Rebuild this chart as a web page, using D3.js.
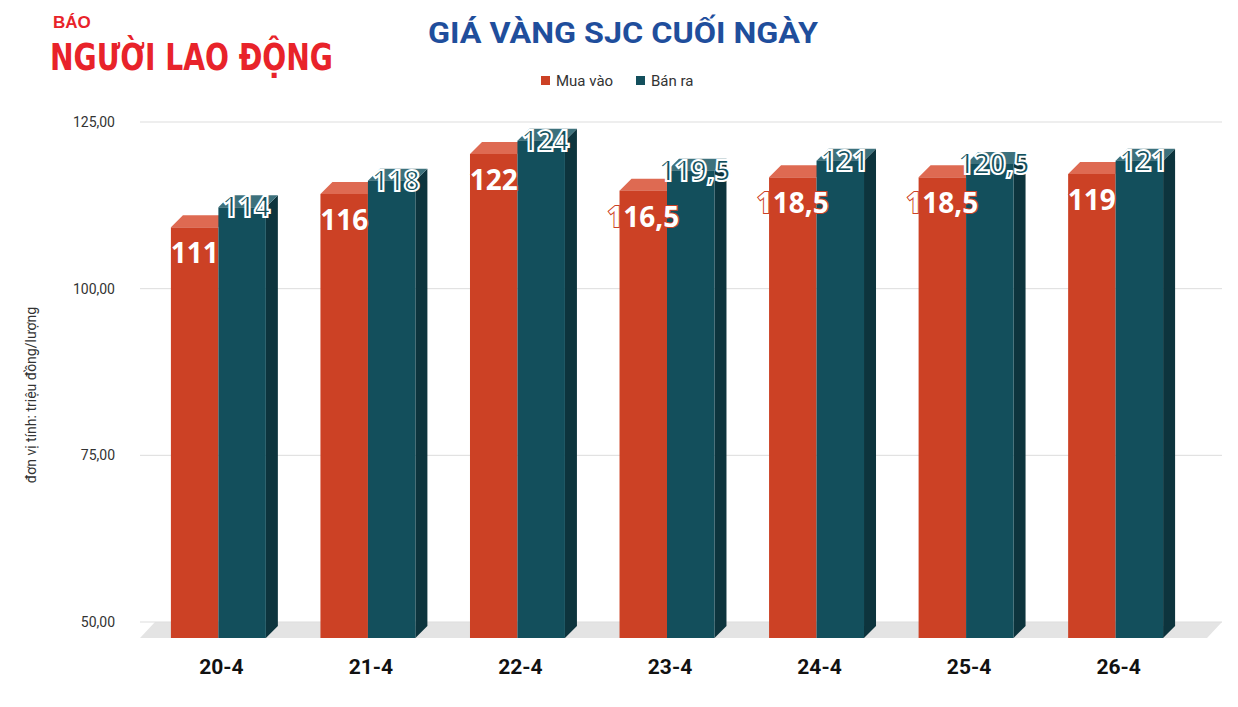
<!DOCTYPE html>
<html><head><meta charset="utf-8">
<script src="https://cdn.jsdelivr.net/npm/d3@7"></script>
<style>body{margin:0;background:#fff}</style></head>
<body><svg id="c" width="1238" height="707"></svg>
<script>
var days = ["20-4","21-4","22-4","23-4","24-4","25-4","26-4"];
var buy = [111,116,122,116.5,118.5,118.5,119];
var sell = [114,118,124,119.5,121,120.5,121];
var yTicks = [50,75,100,125];

var svg = d3.select("#c");
var fmt = d => d3.format(".2f")(d).replace(".", ",");
var lab = d => String(d).replace(".", ",");

var y = d3.scaleLinear().domain([50,125]).range([622,122]);
var x = d3.scaleBand().domain(days).range([141,1193]).paddingInner(0.365).paddingOuter(0.2);
var floorY = 638, depth = 12, off = 12;

// logo
svg.append("text").attr("x",53).attr("y",28).attr("fill","#e8232a")
  .attr("font-family","Liberation Sans").attr("font-weight","bold").attr("font-size",17).text("BÁO");
svg.append("text").attr("x",50).attr("y",70).attr("fill","#e8232a")
  .attr("font-family","DejaVu Sans Condensed").attr("font-weight","bold").attr("font-size",38)
  .attr("textLength",283).attr("lengthAdjust","spacingAndGlyphs").text("NGƯỜI LAO ĐỘNG");

svg.append("text").attr("x",623).attr("y",43).attr("text-anchor","middle").attr("fill","#1f4e9c")
  .attr("font-family","Roboto").attr("font-weight","bold").attr("font-size",29)
  .attr("textLength",390).attr("lengthAdjust","spacingAndGlyphs").text("GIÁ VÀNG SJC CUỐI NGÀY");

// legend
var leg = [["Mua vào","#cc4125"],["Bán ra","#134f5c"]];
var lx = [541,636];
leg.forEach(function(l,i){
  svg.append("rect").attr("x",lx[i]).attr("y",76).attr("width",9).attr("height",9).attr("fill",l[1]);
  svg.append("text").attr("x",lx[i]+15).attr("y",86).attr("font-family","Roboto").attr("font-size",15).attr("fill","#333").text(l[0]);
});

// grid + floor
svg.append("path").attr("d","M140,638 L1207,638 L1222,622 L155,622 Z").attr("fill","#e4e4e4");
yTicks.forEach(function(t){
  svg.append("line").attr("x1",140).attr("x2",1222).attr("y1",y(t)).attr("y2",y(t)).attr("stroke","#ddd");
  svg.append("text").attr("x",115).attr("y",y(t)+5).attr("text-anchor","end")
    .attr("font-family","Roboto").attr("font-size",14).attr("fill","#333").text(fmt(t));
});
svg.append("text").attr("transform","translate(36,395) rotate(-90)").attr("text-anchor","middle")
  .attr("font-family","Roboto").attr("font-size",14).attr("fill","#333").text("đơn vị tính: triệu đồng/lượng");

var bw = x.bandwidth()/2;
function bar(x0, v, front, top, side, showSide){
  var t = y(v)+off;
  if(showSide) svg.append("path").attr("d",`M${x0+bw},${t} L${x0+bw+depth},${t-depth} L${x0+bw+depth},${floorY-depth} L${x0+bw},${floorY} Z`).attr("fill",side);
  svg.append("path").attr("d",`M${x0},${t} L${x0+depth},${t-depth} L${x0+bw+depth},${t-depth} L${x0+bw},${t} Z`).attr("fill",top);
  svg.append("rect").attr("x",x0).attr("y",t).attr("width",bw).attr("height",floorY-t).attr("fill",front);
}
days.forEach(function(d,i){
  var x0 = x(d);
  bar(x0, buy[i], "#cc4125", "#de6a52", "#8a2c19", false);
  bar(x0+bw, sell[i], "#134f5c", "#3d717c", "#0d343d", true);
  svg.append("text").attr("x",x0+bw/2).attr("y",y(buy[i])+off+36).attr("text-anchor","middle")
    .attr("font-family","Open Sans").attr("font-weight","bold").attr("font-size",28).attr("fill","#fff")
    .attr("stroke","#cc4125").attr("stroke-width",2).attr("paint-order","stroke").text(lab(buy[i]));
  svg.append("text").attr("x",x0+bw*1.5+4).attr("y",y(sell[i])+off+10).attr("text-anchor","middle")
    .attr("font-family","Open Sans").attr("font-weight","bold").attr("font-size",28).attr("fill","#134f5c")
    .attr("stroke","#fff").attr("stroke-width",2).text(lab(sell[i]));
  svg.append("text").attr("x",x0+bw+3).attr("y",674).attr("text-anchor","middle")
    .attr("font-family","Roboto").attr("font-weight","bold").attr("font-size",21).attr("fill","#111").text(d);
});
</script></body></html>
